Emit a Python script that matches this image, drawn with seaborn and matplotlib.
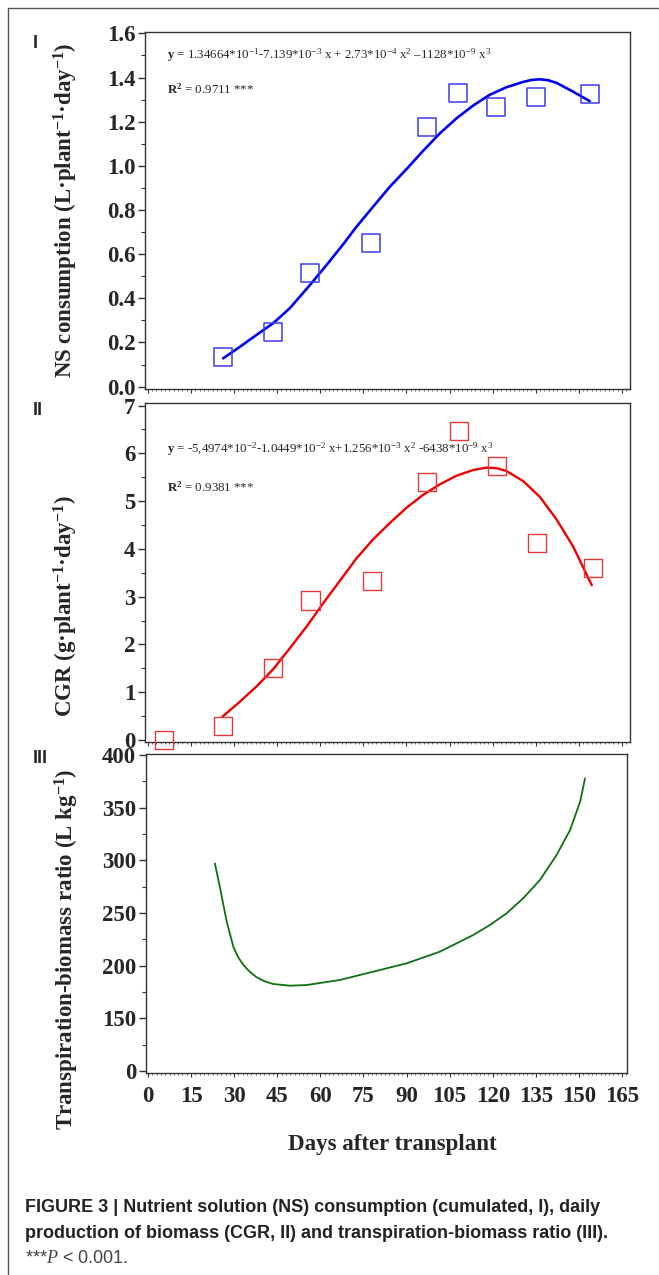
import seaborn as sns
import matplotlib
matplotlib.use('Agg')
import matplotlib.pyplot as plt
from matplotlib.ticker import MultipleLocator, FixedLocator
from matplotlib.lines import Line2D

# Panel I - NS consumption (L plant-1 day-1)
ns_days = [26, 43.5, 56.5, 77.5, 97, 108, 121, 135, 154]
ns_obs = [0.134, 0.246, 0.516, 0.650, 1.177, 1.328, 1.268, 1.313, 1.325]
ns_fit_days = [26.2, 32, 37.8, 43.6, 49.4, 56.4, 62.2, 68, 72.6, 78.4, 84.2, 90, 95.8,
               101.6, 107.4, 113.2, 119, 124.8, 130.6, 133.5, 136.4, 139.3, 142.2, 148, 153.8]
ns_fit = [0.128, 0.18, 0.234, 0.287, 0.355, 0.46, 0.551, 0.645, 0.724, 0.815, 0.905, 0.985,
          1.068, 1.147, 1.215, 1.273, 1.322, 1.356, 1.38, 1.389, 1.392, 1.388, 1.376, 1.336, 1.293]

# Panel II - CGR (g plant-1 day-1)
cgr_days = [5.7, 26, 43.6, 56.6, 78, 97.2, 108.3, 121.6, 135.4, 154.8]
cgr_obs = [0.0, 0.30, 1.50, 2.92, 3.33, 5.39, 6.47, 5.74, 4.13, 3.59]
cgr_fit_days = [26, 32, 37.8, 43.6, 49.4, 55.2, 61, 66.8, 72.6, 78.4, 84.2, 90, 95.8,
                101.6, 107.4, 113.2, 117.8, 121.3, 124.8, 130.6, 136.4, 142.2, 148, 154.5]
cgr_fit = [0.49, 0.80, 1.12, 1.48, 1.92, 2.37, 2.86, 3.33, 3.80, 4.20, 4.54, 4.86, 5.13,
           5.35, 5.53, 5.65, 5.70, 5.69, 5.63, 5.42, 5.09, 4.62, 4.05, 3.24]

# Panel III - transpiration-biomass ratio (L kg-1); y axis is broken below 150
tbr_days = [23.3, 25.1, 27.4, 29.7, 31.4, 33.2, 35.5, 37.8, 40.7, 43.6, 49.4, 55.2, 66.8,
            78.4, 90, 101.6, 113.2, 119, 124.8, 130.6, 136.4, 142.2, 146.9, 150.4, 152.1]
tbr = [297, 273.5, 241.8, 218, 208, 200.6, 194, 189, 185, 182.6, 181, 181.6, 186.4,
       194.3, 202.2, 213.3, 229.1, 238.6, 249.7, 264, 281.3, 305, 328.8, 355.7, 377.8]
tbr_ticks = [100, 150, 200, 250, 300, 350, 400]
tbr_ticklabels = ['0', '150', '200', '250', '300', '350', '400']

x_ticks = list(range(0, 166, 15))

eq1 = (r'$\mathbf{y}$ = 1.34664*10$^{-1}$-7.139*10$^{-3}$ x + 2.73*10$^{-4}$ x$^{2}$'
       r' –1128*10$^{-9}$ x$^{3}$')
r2_1 = r'$\mathbf{R^{2}}$ = 0.9711 ***'
eq2 = (r'$\mathbf{y}$ = -5,4974*10$^{-2}$-1.0449*10$^{-2}$ x+1.256*10$^{-3}$ x$^{2}$'
       r' -6438*10$^{-9}$ x$^{3}$')
r2_2 = r'$\mathbf{R^{2}}$ = 0.9381 ***'

sns.set_theme(style='ticks')
plt.rcParams['font.family'] = ['Liberation Serif', 'DejaVu Serif']
plt.rcParams['mathtext.fontset'] = 'custom'
plt.rcParams['mathtext.rm'] = 'Liberation Serif'
plt.rcParams['mathtext.it'] = 'Liberation Serif:italic'
plt.rcParams['mathtext.bf'] = 'Liberation Serif:bold'

fig = plt.figure(figsize=(6.59, 12.75), dpi=100)
ax1 = fig.add_axes([0.2200, 0.6947, 0.7360, 0.2805])
ax2 = fig.add_axes([0.2200, 0.4178, 0.7360, 0.2659])
ax3 = fig.add_axes([0.2215, 0.1582, 0.7299, 0.2502])

# panel I
sns.lineplot(x=ns_fit_days, y=ns_fit, ax=ax1, color='#0000ee', lw=1.9)
sns.scatterplot(x=ns_days, y=ns_obs, ax=ax1, marker='s', s=13 ** 2,
                facecolor='none', edgecolor='#3a3aee', linewidth=1.1, zorder=3)
ax1.set_ylim(-0.012, 1.608)
ax1.yaxis.set_major_locator(MultipleLocator(0.2))
ax1.yaxis.set_minor_locator(MultipleLocator(0.1))
ax1.set_yticklabels([f'{v:.1f}' for v in ax1.get_yticks()])
ax1.set_ylabel(r'NS consumption (L·plant$^{\mathbf{-1}}$·day$^{\mathbf{-1}}$)')
ax1.text(0.045, 0.935, eq1, transform=ax1.transAxes, fontsize=9.3, va='center')
ax1.text(0.045, 0.84, r2_1, transform=ax1.transAxes, fontsize=9.3, va='center')

# panel II
sns.lineplot(x=cgr_fit_days, y=cgr_fit, ax=ax2, color='#ee0000', lw=1.7)
sns.scatterplot(x=cgr_days, y=cgr_obs, ax=ax2, marker='s', s=13 ** 2,
                facecolor='none', edgecolor='#e83838', linewidth=1.0, zorder=3,
                clip_on=False)
ax2.set_ylim(-0.048, 7.047)
ax2.yaxis.set_major_locator(MultipleLocator(1))
ax2.yaxis.set_minor_locator(MultipleLocator(0.5))
ax2.set_ylabel(r'CGR (g·plant$^{\mathbf{-1}}$·day$^{\mathbf{-1}}$)')
ax2.text(0.045, 0.864, eq2, transform=ax2.transAxes, fontsize=9.3, va='center')
ax2.text(0.045, 0.752, r2_2, transform=ax2.transAxes, fontsize=9.3, va='center')

# panel III
sns.lineplot(x=tbr_days, y=tbr, ax=ax3, color='#107010', lw=1.3)
ax3.set_ylim(97.8, 400.7)
ax3.yaxis.set_major_locator(FixedLocator(tbr_ticks))
ax3.yaxis.set_minor_locator(MultipleLocator(25))
ax3.set_yticklabels(tbr_ticklabels)
ax3.set_ylabel(r'Transpiration-biomass ratio (L kg$^{\mathbf{-1}}$)')

for ax in (ax1, ax2, ax3):
    ax.set_xlim(-1.0, 167.8)
    ax.xaxis.set_major_locator(FixedLocator(x_ticks))
    ax.xaxis.set_minor_locator(MultipleLocator(1.5))
    ax.set_xlabel('')
    for s in ax.spines.values():
        s.set_visible(True)
        s.set_color('#333333')
        s.set_linewidth(1.0)
    ax.tick_params(axis='y', which='major', direction='out', length=5, width=1,
                   color='#333333', labelsize=16.5, pad=2)
    ax.tick_params(axis='y', which='minor', direction='out', length=3, width=0.8,
                   color='#333333')
    ax.tick_params(axis='x', which='major', direction='out', length=3, width=0.8,
                   color='#333333', labelsize=16.5, pad=6)
    ax.tick_params(axis='x', which='minor', direction='out', length=1.5, width=0.6,
                   color='#555555')
    for lab in ax.get_yticklabels() + ax.get_xticklabels():
        lab.set_fontweight('bold')
    ax.yaxis.label.set_fontsize(16.5)
    ax.yaxis.label.set_fontweight('bold')

ax3.set_xlim(-0.7, 166.7)
ax1.tick_params(axis='x', labelbottom=False)
ax2.tick_params(axis='x', labelbottom=False)

ax1.yaxis.set_label_coords(-0.135, 0.5)
ax2.yaxis.set_label_coords(-0.135, 0.40)
ax3.yaxis.set_label_coords(-0.135, 0.39)

fig.text(0.595, 0.102, 'Days after transplant', ha='center', va='center',
         fontsize=16.5, fontweight='bold')

# panel tags
for tag, yy in (('I', 0.966), ('II', 0.678), ('III', 0.405)):
    fig.text(0.05, yy, tag, ha='left', va='center', fontsize=13, fontweight='bold',
             family=['Liberation Sans', 'DejaVu Sans'])

# caption
cap_font = ['Liberation Sans', 'DejaVu Sans']
fig.text(0.038, 0.0533, 'FIGURE 3 | Nutrient solution (NS) consumption (cumulated, I), daily',
         fontsize=13, fontweight='bold', va='center', family=cap_font, color='#222222')
fig.text(0.038, 0.0329, 'production of biomass (CGR, II) and transpiration-biomass ratio (III).',
         fontsize=13, fontweight='bold', va='center', family=cap_font, color='#222222')
fig.text(0.038, 0.0133, r'***$\it{P}$ < 0.001.', fontsize=13, va='center',
         family=cap_font, color='#444444')

# outer frame of the figure panel
fig.add_artist(Line2D([8 / 659, 8 / 659], [1 - 8 / 1275, 0], transform=fig.transFigure,
                      color='#555555', lw=1.0))
fig.add_artist(Line2D([8 / 659, 1], [1 - 8 / 1275, 1 - 8 / 1275], transform=fig.transFigure,
                      color='#555555', lw=1.0))

plt.savefig('out.png', dpi=100)
